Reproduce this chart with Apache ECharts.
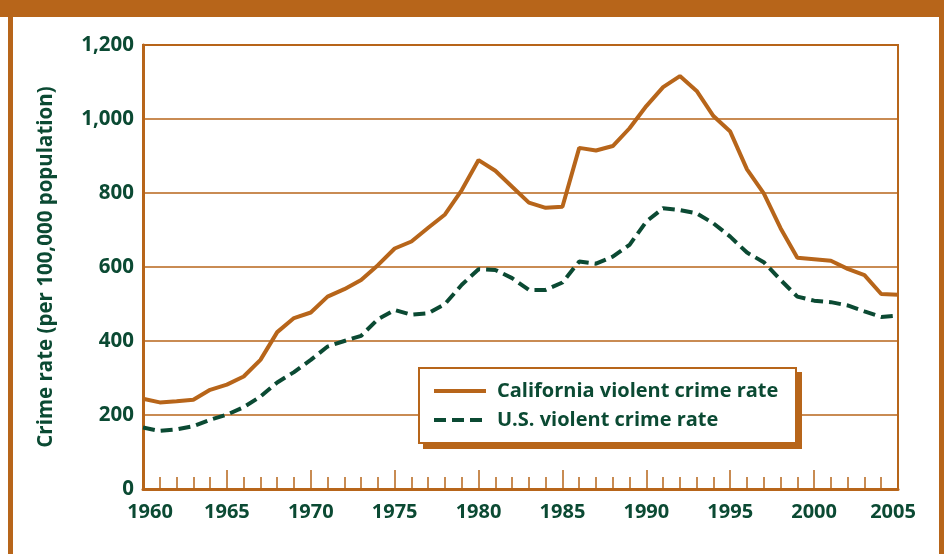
<!DOCTYPE html>
<html>
<head>
<meta charset="utf-8">
<script src="https://cdn.jsdelivr.net/npm/echarts@6/dist/echarts.min.js"></script>
<style>
  html, body { margin: 0; padding: 0; background: #fff; }
  #chart { width: 944px; height: 554px; }
</style>
</head>
<body>
<div id="chart"></div>
<script>
// years on the x axis
const years = [];
for (let y = 1960; y <= 2005; y++) years.push(y);

// violent crimes per 100,000 population
const california = [
  244, 234, 237, 241, 268, 282, 304, 349, 424, 462,
  477, 520, 540, 565, 605, 650, 669, 706, 742, 808,
  889, 860, 817, 774, 760, 763, 922, 915, 927, 975,
  1035, 1086, 1116, 1076, 1008, 966, 864, 799, 705, 625,
  621, 617, 595, 578, 527, 525
];
const us = [
  166, 157, 161, 170, 187, 201, 221, 250, 288, 316,
  349, 385, 400, 414, 459, 484, 471, 475, 500, 552,
  594, 592, 570, 538, 538, 558, 615, 609, 628, 660,
  723, 759, 754, 745, 718, 682, 639, 613, 565, 520,
  509, 505, 496, 480, 465, 469
];
const seriesNames = ['California violent crime rate', 'U.S. violent crime rate'];

const orange = '#B7651A';
const green = '#0B4A33';
const font = '"Open Sans", "Noto Sans", sans-serif';

const chart = echarts.init(document.getElementById('chart'));

const option = {
  backgroundColor: '#fff',
  textStyle: { fontFamily: font },
  grid: {
    left: 143, right: 46, top: 45, bottom: 65,
    show: true, borderColor: orange, borderWidth: 2,
    outerBoundsMode: 'none'
  },
  xAxis: {
    type: 'value',
    min: 1960, max: 2005, interval: 5,
    axisLine: { lineStyle: { color: orange, width: 3 } },
    axisTick: { show: true, inside: true, length: 19, lineStyle: { color: orange, width: 1.5 } },
    minorTick: { show: true, splitNumber: 5, length: 12, lineStyle: { color: orange, width: 1.5 } },
    splitLine: { show: false },
    axisLabel: {
      margin: 13, color: green, fontWeight: 'bold', fontSize: 20,
      formatter: function (v) {
        if (v === 1960) return '{first|' + v + '}';
        if (v === 2005) return '{last|' + v + '}';
        return String(v);
      },
      rich: {
        first: { padding: [0, 0, 0, 14], color: green, fontWeight: 'bold', fontSize: 20 },
        last: { padding: [0, 10, 0, 0], color: green, fontWeight: 'bold', fontSize: 20 }
      }
    }
  },
  yAxis: {
    type: 'value',
    min: 0, max: 1200, interval: 200,
    name: 'Crime rate (per 100,000 population)',
    nameLocation: 'middle', nameRotate: 90, nameGap: 86,
    nameTextStyle: { color: green, fontWeight: 'bold', fontSize: 20.5 },
    axisLine: { show: true, lineStyle: { color: orange, width: 3 } },
    axisTick: { show: false },
    splitLine: { lineStyle: { color: orange, width: 1.5 } },
    axisLabel: {
      margin: 9, color: green, fontWeight: 'bold', fontSize: 20.5,
      formatter: function (v) { return v.toLocaleString('en-US'); }
    }
  },
  legend: {
    orient: 'vertical',
    left: 432, top: 381,
    padding: 0,
    itemGap: 9,
    itemWidth: 52, itemHeight: 20,
    itemStyle: { color: 'rgba(0,0,0,0)', borderWidth: 0, opacity: 0 },
    lineStyle: { width: 4 },
    textStyle: { color: green, fontWeight: 'bold', fontSize: 20, padding: [0, 0, 0, 6] },
    data: seriesNames
  },
  graphic: [
    { type: 'rect', shape: { x: 0, y: 0, width: 944, height: 17 }, style: { fill: orange }, silent: true },
    { type: 'rect', shape: { x: 8, y: 0, width: 5, height: 554 }, style: { fill: orange }, silent: true },
    { type: 'rect', shape: { x: 939, y: 0, width: 5, height: 554 }, style: { fill: orange }, silent: true },
    // legend box with its offset shadow
    { type: 'rect', z: 3, shape: { x: 423, y: 372, width: 379, height: 77 }, style: { fill: orange }, silent: true },
    { type: 'rect', z: 3, shape: { x: 419, y: 368, width: 377, height: 75 }, style: { fill: '#fff', stroke: orange, lineWidth: 2 }, silent: true }
  ],
  series: [
    {
      name: seriesNames[0], type: 'line', symbol: 'none',
      data: years.map((y, i) => [y, california[i]]),
      lineStyle: { color: orange, width: 4 },
      itemStyle: { color: orange }
    },
    {
      name: seriesNames[1], type: 'line', symbol: 'none',
      data: years.map((y, i) => [y, us[i]]),
      lineStyle: { color: green, width: 4, type: [12, 6] },
      itemStyle: { color: green }
    }
  ]
};

chart.setOption(option);
</script>
</body>
</html>
